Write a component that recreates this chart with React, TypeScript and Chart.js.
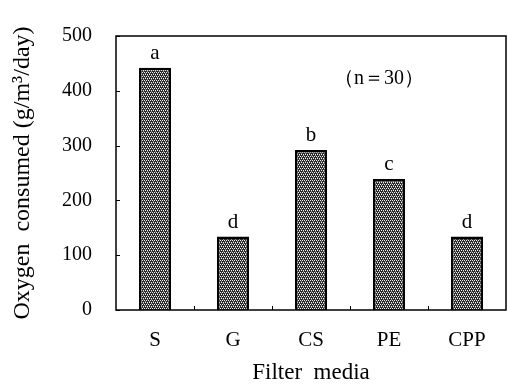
import React, { useEffect, useRef } from "react";
import { Chart, registerables } from "chart.js";

Chart.register(...registerables);

const categories = ["S", "G", "CS", "PE", "CPP"];
const oxygenValues = [442, 134, 292, 239, 134];
const groupLetters = ["a", "d", "b", "c", "d"];
const yTicks = [0, 100, 200, 300, 400, 500];
const noteText = "（n＝30）";
const yTitle = "Oxygen  consumed (g/m³/day)";
const xTitle = "Filter  media";

const SERIF = "'Liberation Serif', 'Times New Roman', serif";

function makePattern(ctx: CanvasRenderingContext2D): CanvasPattern | string {
  const c = document.createElement("canvas");
  c.width = 4;
  c.height = 4;
  const p = c.getContext("2d");
  if (!p) return "#777";
  p.fillStyle = "#2a2a2a";
  p.fillRect(0, 0, 4, 4);
  p.fillStyle = "#f0f0f0";
  [[0, 0], [2, 0], [1, 2], [3, 2]].forEach(([x, y]) => p.fillRect(x, y, 1, 1));
  p.fillStyle = "#8a8a8a";
  [[1, 1], [3, 3]].forEach(([x, y]) => p.fillRect(x, y, 1, 1));
  return ctx.createPattern(c, "repeat") || "#777";
}

const framePlugin = {
  id: "frameAndLabels",
  afterDatasetsDraw(chart: any) {
    const { ctx, chartArea, scales } = chart;
    const { left, right, top, bottom } = chartArea;
    ctx.save();
    ctx.strokeStyle = "#000";
    ctx.lineWidth = 1.5;
    ctx.strokeRect(left, top, right - left, bottom - top);
    ctx.lineWidth = 1;
    yTicks.forEach((v) => {
      const y = Math.round(scales.y.getPixelForValue(v)) + 0.5;
      ctx.beginPath();
      ctx.moveTo(left, y);
      ctx.lineTo(left + 4, y);
      ctx.stroke();
    });
    for (let i = 0; i < categories.length - 1; i++) {
      const x =
        Math.round(
          (scales.x.getPixelForValue(i) + scales.x.getPixelForValue(i + 1)) / 2
        ) + 0.5;
      ctx.beginPath();
      ctx.moveTo(x, bottom);
      ctx.lineTo(x, bottom - 4);
      ctx.stroke();
    }
    const meta = chart.getDatasetMeta(0);
    ctx.fillStyle = "#000";
    ctx.font = `21px ${SERIF}`;
    ctx.textAlign = "center";
    ctx.textBaseline = "bottom";
    meta.data.forEach((bar: any, i: number) => {
      ctx.fillText(groupLetters[i], bar.x, bar.y - 4);
    });
    ctx.font = `20px ${SERIF}`;
    ctx.textBaseline = "middle";
    ctx.fillText(noteText, scales.x.getPixelForValue(3) - 10, scales.y.getPixelForValue(422));
    ctx.restore();
  },
};

export default function App() {
  const ref = useRef<HTMLCanvasElement | null>(null);
  useEffect(() => {
    const canvas = ref.current;
    if (!canvas) return;
    const ctx = canvas.getContext("2d");
    if (!ctx) return;
    const pattern = makePattern(ctx);
    const chart = new Chart(canvas, {
      type: "bar",
      data: {
        labels: categories,
        datasets: [
          {
            data: oxygenValues,
            backgroundColor: pattern as any,
            borderColor: "#000",
            borderWidth: 2.5,
            borderSkipped: "bottom",
            barPercentage: 0.41,
            categoryPercentage: 1,
          },
        ],
      },
      options: {
        animation: false,
        responsive: false,
        devicePixelRatio: 1,
        layout: { padding: { top: 22, right: 2, left: 0, bottom: 0 } },
        plugins: {
          legend: { display: false },
          tooltip: { enabled: false },
        },
        scales: {
          x: {
            grid: { display: false, drawTicks: false },
            border: { display: false },
            ticks: {
              color: "#000",
              font: { family: SERIF, size: 21 },
              padding: 18,
              maxRotation: 0,
            },
            title: {
              display: true,
              text: xTitle,
              color: "#000",
              font: { family: SERIF, size: 23 },
              padding: { top: 0, bottom: 0 },
            },
            afterFit: (s: any) => {
              s.height = 77;
            },
          },
          y: {
            min: 0,
            max: 500,
            grid: { display: false, drawTicks: false },
            border: { display: false },
            ticks: {
              stepSize: 100,
              color: "#000",
              font: { family: SERIF, size: 20 },
              padding: 24,
            },
            title: {
              display: true,
              text: yTitle,
              color: "#000",
              font: { family: SERIF, size: 24 },
              padding: { top: 8, bottom: 0 },
            },
            afterFit: (s: any) => {
              s.width = 116;
            },
          },
        },
      },
      plugins: [framePlugin],
    });
    return () => chart.destroy();
  }, []);
  return (
    <div style={{ position: "absolute", left: 0, top: 0, width: 508, height: 387, background: "#fff" }}>
      <canvas ref={ref} width={508} height={387} style={{ width: 508, height: 387, display: "block" }} />
    </div>
  );
}
